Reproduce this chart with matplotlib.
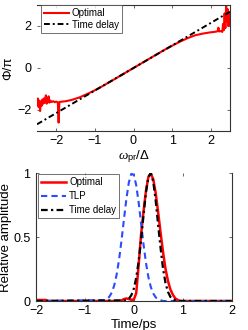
import numpy as np
import matplotlib
matplotlib.use("Agg")
import matplotlib.pyplot as plt

plt.rcParams['font.family'] = ['Liberation Sans', 'DejaVu Sans']
plt.rcParams['mathtext.fontset'] = 'custom'
plt.rcParams['mathtext.rm'] = 'Liberation Sans'
plt.rcParams['mathtext.it'] = 'Liberation Serif:italic'

# ---- top panel data: spectral phase ----
omega_opt = [-2.50, -2.48, -2.46, -2.44, -2.42, -2.40, -2.38, -2.36, -2.34, -2.32,
             -2.30, -2.27, -2.25, -2.22, -2.20, -2.18, -2.15, -2.12, -2.08, -2.04,
             -2.00, -1.96, -1.94, -1.92, -1.85, -1.75, -1.60, -1.40, -1.20, -1.00,
             -0.80, -0.50, -0.25, 0.00, 0.25, 0.50, 0.80, 1.00, 1.20, 1.40,
             1.60, 1.80, 2.00, 2.10, 2.18, 2.20, 2.22, 2.26, 2.30, 2.32,
             2.34, 2.36, 2.38, 2.40, 2.42, 2.44, 2.46, 2.48, 2.50]
phase_opt = [-1.75, -1.45, -1.85, -1.55, -2.05, -1.60, -1.80, -1.50, -1.70, -1.45,
             -1.65, -1.30, -1.70, -1.55, -1.35, -1.65, -1.55, -1.62, -1.58, -1.63,
             -1.60, -1.64, -2.60, -1.62, -1.60, -1.58, -1.52, -1.40, -1.24, -1.06,
             -0.86, -0.54, -0.27, 0.00, 0.27, 0.54, 0.86, 1.06, 1.25, 1.42,
             1.56, 1.64, 1.70, 1.72, 1.75, 1.92, 1.74, 1.76, 1.72, 2.10,
             1.80, 2.60, 1.90, 3.00, 2.20, 2.80, 2.00, 2.60, 2.30]
omega_td = [-2.5, 2.5]
phase_td = [-2.68, 2.68]

# ---- bottom panel data: temporal amplitude ----
t_tlp = [-2.0, -0.60, -0.55, -0.50, -0.45, -0.40, -0.35, -0.30, -0.25, -0.20,
         -0.15, -0.10, -0.05, 0.00, 0.05, 0.10, 0.15, 0.20, 0.25, 0.30,
         0.35, 0.40, 0.45, 0.50, 0.55, 0.60, 2.0]
a_tlp = [0.0, 0.007, 0.015, 0.033, 0.066, 0.121, 0.206, 0.325, 0.474, 0.640,
         0.800, 0.927, 0.994, 0.986, 0.906, 0.770, 0.607, 0.442, 0.298, 0.186,
         0.108, 0.058, 0.028, 0.013, 0.006, 0.0, 0.0]

t_opt = [-2.0, -1.80, -1.75, -0.30, -0.25, -0.20, -0.15, -0.10, -0.05, 0.00,
         0.05, 0.10, 0.15, 0.20, 0.25, 0.30, 0.35, 0.40, 0.45, 0.50,
         0.55, 0.60, 0.65, 0.70, 0.75, 0.80, 0.85, 0.90, 0.95, 2.0]
a_opt = [0.008, 0.008, 0.0, 0.0, 0.005, 0.015, 0.020, 0.015, 0.010, 0.010,
         0.060, 0.280, 0.520, 0.700, 0.860, 0.970, 0.995, 0.950, 0.840, 0.690,
         0.530, 0.380, 0.250, 0.157, 0.090, 0.049, 0.020, 0.008, 0.0, 0.0]

t_td = [-2.0, -0.15, -0.10, -0.05, 0.00, 0.05, 0.10, 0.15, 0.20, 0.25,
        0.30, 0.35, 0.40, 0.45, 0.50, 0.55, 0.60, 0.65, 0.70, 0.75,
        0.80, 0.85, 0.90, 2.0]
a_td = [0.0, 0.005, 0.018, 0.045, 0.094, 0.180, 0.310, 0.480, 0.670, 0.850,
        0.970, 1.000, 0.930, 0.780, 0.590, 0.410, 0.250, 0.140, 0.071, 0.032,
        0.013, 0.005, 0.0, 0.0]

W, H = 248, 330
fig = plt.figure(figsize=(W / 100, H / 100), dpi=100)

spine_col = '0.2'
fs_tick = 9
fs_lab = 9.5
fs_leg = 7


def style(ax):
    ax.tick_params(direction='in', length=2.5, width=0.6, top=True, right=True,
                   labelsize=fs_tick, color='0.3')
    ax.tick_params(axis='x', pad=3)
    ax.tick_params(axis='y', pad=4)
    for s in ax.spines.values():
        s.set_color(spine_col)
        s.set_linewidth(0.8)


# top axes
ax1 = fig.add_axes([37 / W, 1 - 131 / H, (230 - 37) / W, (131 - 5) / H])
ax1.plot(omega_opt, phase_opt, color='red', lw=1.5, label='Optimal')
ax1.plot(omega_td, phase_td, color='black', lw=1.4, ls=(0, (3, 1.5, 1, 1.5)), label='Time delay')
ax1.set_xlim(-2.5, 2.5)
ax1.set_ylim(-3, 3)
ax1.set_xticks([-2, -1, 0, 1, 2])
ax1.set_yticks([-2, 0, 2])
ax1.set_xticklabels(['\u22122', '\u22121', '0', '1', '2'])
ax1.set_yticklabels(['\u22122', '0', '2'])
style(ax1)
ax1.spines['left'].set_visible(False)
ax1.set_ylabel('\u03a6/\u03c0', fontsize=fs_lab, labelpad=2)
ax1.set_xlabel(r'$\omega_{\mathrm{pr}}/\Delta$', fontsize=fs_lab, labelpad=1)
leg1 = ax1.legend(loc='upper left', fontsize=fs_leg, frameon=True, fancybox=False,
                  borderaxespad=0.0, handlelength=2.6, handletextpad=0.3,
                  borderpad=0.3, labelspacing=0.2, bbox_to_anchor=(0.02, 1.0))
leg1.get_frame().set_edgecolor('0.3')
leg1.get_frame().set_linewidth(0.7)

# bottom axes
ax2 = fig.add_axes([36 / W, 1 - 301 / H, (231.5 - 36) / W, (301 - 173) / H])
ax2.plot(t_opt, a_opt, color='red', lw=1.8, label='Optimal')
ax2.plot(t_tlp, a_tlp, color='#2a4bff', lw=1.5, ls=(0, (3, 2)), label='TLP')
ax2.plot(t_td, a_td, color='black', lw=1.6, ls=(0, (3, 1.5, 1, 1.5)), label='Time delay')
ax2.set_xlim(-2, 2)
ax2.set_ylim(0, 1)
ax2.set_xticks([-2, -1, 0, 1, 2])
ax2.set_xticklabels(['\u22122', '\u22121', '0', '1', '2'])
ax2.set_yticks([0, 0.5, 1])
ax2.set_yticklabels(['0', '0.5', '1'])
style(ax2)
ax2.spines['top'].set_visible(False)
ax2.set_ylabel('Relative amplitude', fontsize=fs_lab, labelpad=1)
ax2.set_xlabel('Time/ps', fontsize=fs_lab, labelpad=1)
leg2 = ax2.legend(loc='upper left', fontsize=fs_leg, frameon=True, fancybox=False,
                  borderaxespad=0.0, handlelength=2.6, handletextpad=0.3,
                  borderpad=0.3, labelspacing=0.4, bbox_to_anchor=(0.01, 0.99))
leg2.get_frame().set_edgecolor('0.3')
leg2.get_frame().set_linewidth(0.7)

fig.savefig('out.png', dpi=100, facecolor='white')
